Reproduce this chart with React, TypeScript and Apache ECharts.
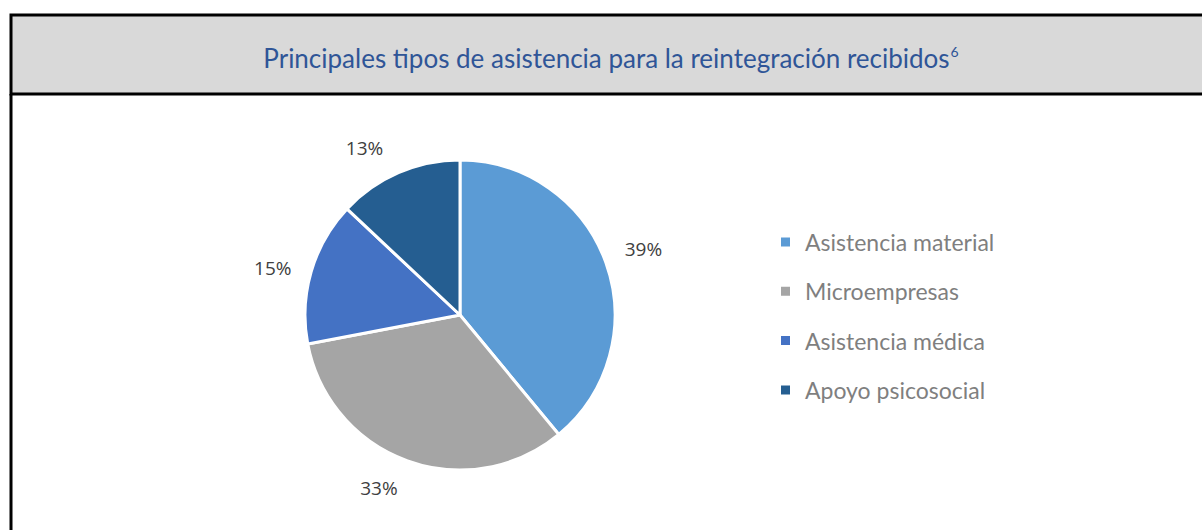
import React, { useEffect, useRef } from "react";
import * as echarts from "echarts";

const categories = ["Asistencia material", "Microempresas", "Asistencia médica", "Apoyo psicosocial"];
const values = [39, 33, 15, 13];
const colors = ["#5b9bd5", "#a5a5a5", "#4472c4", "#255e91"];
const titleText = "Principales tipos de asistencia para la reintegración recibidos";
const footnote = "6";
// per-label nudges to mimic the original's best-fit label placement: [horizontal padding right, vertical gap (+ down / - up)]
const labelNudge = [
  [0, 0],
  [30, -20],
  [0, 14],
  [36, 24],
];

export default function App() {
  const ref = useRef<HTMLDivElement>(null);
  useEffect(() => {
    if (!ref.current) return;
    const chart = echarts.init(ref.current, undefined, { renderer: "svg" });
    const data = categories.map((name, i) => ({ name, value: values[i], itemStyle: { color: colors[i] } }));
    const labelData = categories.map((name, i) => {
      const [pr, gap] = labelNudge[i];
      const v = `{v|${values[i]}%}`;
      const text = gap > 0 ? `{g${i}| }\n${v}` : gap < 0 ? `${v}\n{g${i}| }` : v;
      return {
        name,
        value: values[i],
        label: {
          formatter: text,
          padding: [0, pr, 0, 0],
          rich: { [`g${i}`]: { height: Math.abs(gap), lineHeight: Math.abs(gap), fontSize: 1 } },
        },
      };
    });
    chart.setOption({
      animation: false,
      backgroundColor: "#ffffff",
      title: {
        text: `{t|${titleText}}{s|${footnote}}`,
        left: 606,
        textAlign: "center",
        top: 39,
        textStyle: {
          rich: {
            t: { fontFamily: "Lato", fontSize: 26, fontWeight: "normal", color: "#2f5597" },
            s: { fontFamily: "Lato", fontSize: 14, fontWeight: "normal", color: "#2f5597", verticalAlign: "top", padding: [0, 0, 14, 1] },
          },
        },
      },
      graphic: [
        { type: "rect", z: -10, shape: { x: 11, y: 15, width: 1202, height: 79 }, style: { fill: "#d9d9d9", stroke: "#000", lineWidth: 3 } },
        { type: "line", z: -10, shape: { x1: 11, y1: 94, x2: 11, y2: 540 }, style: { stroke: "#000", lineWidth: 3 } },
      ],
      legend: {
        orient: "vertical",
        left: 774,
        top: 225,
        itemWidth: 11,
        itemHeight: 11,
        itemGap: 25.3,
        icon: "rect",
        data: categories.map((name, i) => ({ name, itemStyle: { color: colors[i] } })),
        textStyle: { fontFamily: "Lato", fontSize: 23, lineHeight: 24, color: "#7f7f7f", padding: [0, 0, 0, 9] },
      },
      series: [
        {
          type: "pie",
          center: [460, 315],
          radius: 155,
          startAngle: 90,
          clockwise: true,
          data,
          itemStyle: { borderColor: "#ffffff", borderWidth: 3 },
          label: { show: false },
          labelLine: { show: false },
          emphasis: { disabled: true },
        },
        {
          type: "pie",
          center: [460, 315],
          radius: [184, 200],
          startAngle: 90,
          clockwise: true,
          silent: true,
          data: labelData,
          itemStyle: { color: "rgba(0,0,0,0)", borderWidth: 0 },
          label: {
            show: true,
            position: "inside",
            rich: { v: { fontFamily: "Open Sans", fontSize: 19, color: "#404040" } },
          },
          labelLine: { show: false },
          emphasis: { disabled: true },
        },
      ],
    });
    return () => chart.dispose();
  }, []);
  return <div ref={ref} style={{ position: "absolute", left: 0, top: 0, width: 1202, height: 530 }} />;
}
